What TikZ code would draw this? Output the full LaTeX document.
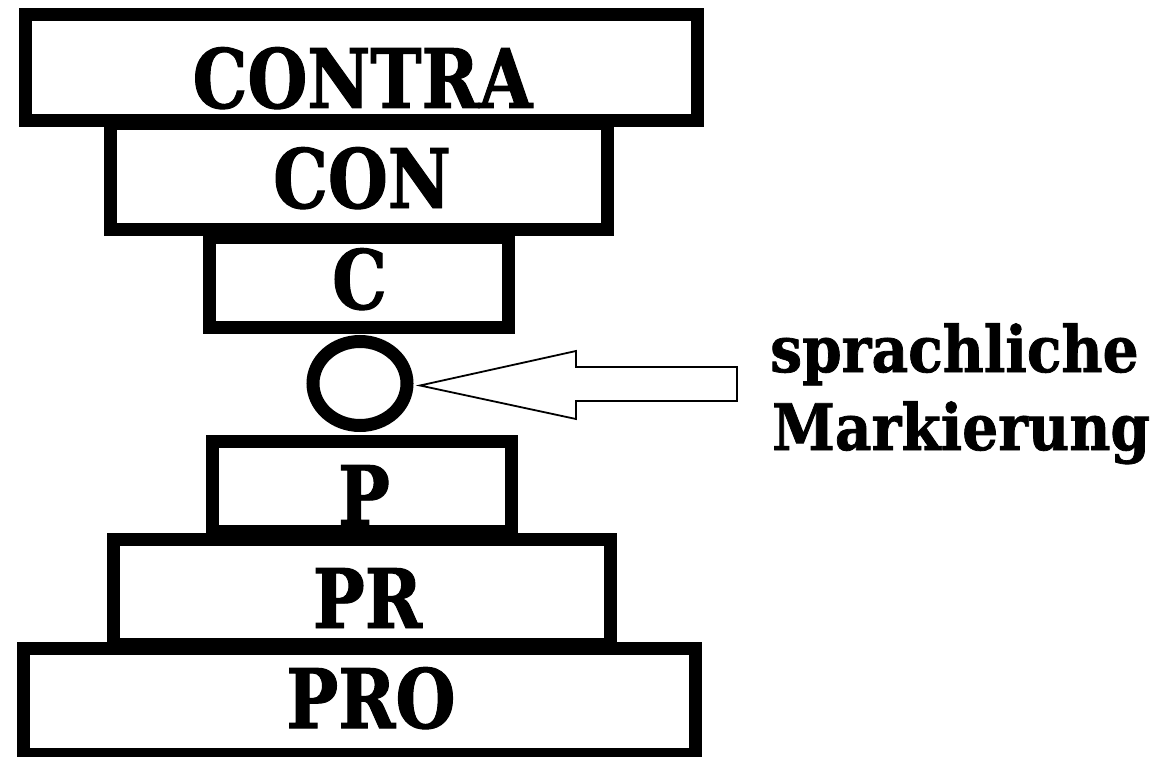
\documentclass[tikz,border=0pt]{standalone}
\usepackage{fontspec}
\newfontfamily\heavy{DejaVu Serif}[FakeStretch=0.84,FakeBold=1.2]
\newfontfamily\heavyside{DejaVu Serif}[FakeStretch=0.885,FakeBold=1.2]
\usetikzlibrary{shapes.geometric}
\begin{document}
\begin{tikzpicture}[x=1pt,y=-1pt,
  stack/.style={draw=black, fill=white, line width=13pt, inner sep=0pt, outer sep=0pt},
  lab/.style={anchor=base, inner sep=0pt, font=\heavy\bfseries\fontsize{82}{82}\selectfont},
  side/.style={anchor=base west, inner sep=0pt, font=\heavyside\bfseries\fontsize{64}{64}\selectfont},
  ring/.style={ellipse, draw=black, line width=13pt, inner sep=0pt, outer sep=0pt},
  hollow/.style={draw=black, fill=white, line width=1.8pt, line join=miter}]
\useasboundingbox (0,0) rectangle (1157,757);
% stacked boxes
\node[stack, minimum width=672pt, minimum height=105.5pt] (contra) at (361.5,67.75) {};
\node[stack, minimum width=496.5pt, minimum height=106pt] (con) at (358.75,176.5) {};
\node[stack, minimum width=299pt, minimum height=90pt] (c) at (359,282.5) {};
\node[ring, minimum width=94pt, minimum height=84pt] (mark) at (360,383.5) {};
\node[stack, minimum width=299pt, minimum height=90pt] (p) at (362,486.5) {};
\node[stack, minimum width=496.5pt, minimum height=105pt] (pr) at (361.75,592) {};
\node[stack, minimum width=672pt, minimum height=106pt] (pro) at (359,701.5) {};
% labels
\node[lab] (contraL) at (362.5,108) {CONTRA};
\node[lab] (conL) at (362,208) {CON};
\node[lab] (cL) at (359.5,309) {C};
\node[lab] (pL) at (364,525) {P};
\node[lab] (prL) at (367.5,628) {PR};
\node[lab] (proL) at (371,728) {PRO};
% side text
\node[side] (t1) at (770,372) {sprachliche};
\node[side] (t2) at (772,450) {Markierung};
% hollow arrow pointing to the marker
\coordinate (tip) at (420,385.5);
\draw[hollow] (tip) -- (576,351) -- (576,367) -- (737,367) -- (737,401) -- (576,401) -- (576,419) -- cycle;
\end{tikzpicture}
\end{document}
